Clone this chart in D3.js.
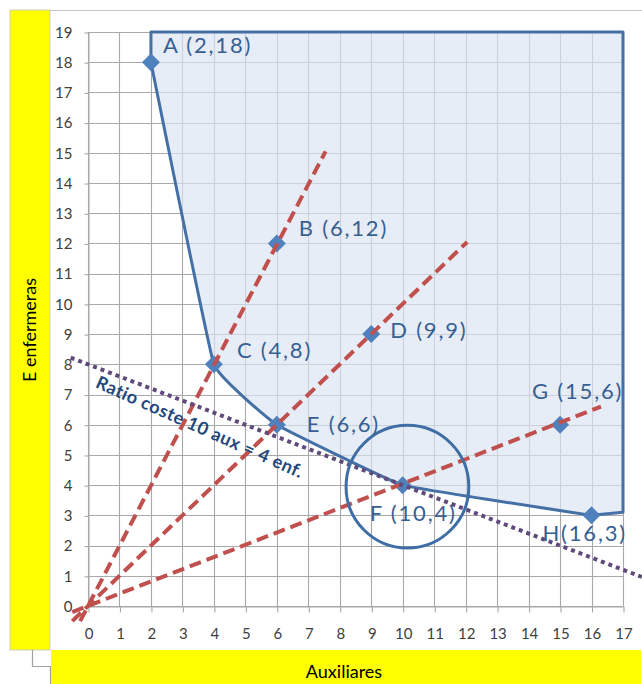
<!DOCTYPE html>
<html>
<head>
<meta charset="utf-8">
<script src="https://cdn.jsdelivr.net/npm/d3@7"></script>
<style>
  body { margin: 0; background: #fff; }
  text { font-family: Lato, "Open Sans", sans-serif; }
</style>
</head>
<body>
<script>
// Datos del gráfico
var pointNames = ["A", "B", "C", "D", "E", "F", "G", "H"];
var pointX = [2, 6, 4, 9, 6, 10, 15, 16];
var pointY = [18, 12, 8, 9, 6, 4, 6, 3];
var pointLabels = ["A (2,18)", "B (6,12)", "C (4,8)", "D (9,9)", "E (6,6)", "F (10,4)", "G (15,6)", "H(16,3)"];

// Frontera de la región factible (tramo curvo y cierre recto)
var frontierX = [2, 4, 6, 10, 16];
var frontierY = [18, 8, 6, 4, 3];
var closureX = [17, 17, 2];
var closureY = [3.1, 19, 19];

// Rectas de proporción desde el origen
var rays = [
  {x0: -0.25, y0: -0.5, x1: 7.55, y1: 15.05},
  {x0: -0.5, y0: -0.5, x1: 12.05, y1: 12.05},
  {x0: -0.5, y0: -0.2, x1: 16.3, y1: 6.6}
];

// Recta de coste: 10 aux = 4 enf
var costX = [-0.55, 17.6];
var costY = [8.22, 0.96];
var costLabel = "Ratio coste 10 aux = 4 enf.";

// Círculo alrededor del óptimo
var circleCenter = [10.15, 3.95];
var circleRadiusX = 1.95;

var xTickLabels = [0, 1, 2, 3, 4, 5, 6, 7, 8, 9, 10, 11, 12, 13, 14, 15, 16, 17];
var yTickLabels = [0, 1, 2, 3, 4, 5, 6, 7, 8, 9, 10, 11, 12, 13, 14, 15, 16, 17, 18, 19];
var xTitle = "Auxiliares";
var yTitle = "E enfermeras";

// Lienzo
var W = 642, H = 684;
var x = d3.scaleLinear().domain([0, 17]).range([88, 623]);
var y = d3.scaleLinear().domain([0, 19]).range([606, 32]);

var svg = d3.select("body").append("svg")
    .attr("width", W)
    .attr("height", H);

// Marco y cajas amarillas de los títulos
svg.append("line")
    .attr("x1", 50).attr("x2", W).attr("y1", 10.5).attr("y2", 10.5)
    .attr("stroke", "#c4c4c4").attr("stroke-width", 1.2);

svg.append("rect")
    .attr("x", 10).attr("y", 10).attr("width", 40).attr("height", 640)
    .attr("fill", "#ffff00").attr("stroke", "#c4c4c4").attr("stroke-width", 0.8);

svg.append("path")
    .attr("d", "M32.5,650 V666.5 H50.5 V684")
    .attr("fill", "none").attr("stroke", "#a0a0a0").attr("stroke-width", 1.2);

svg.append("rect")
    .attr("x", 51).attr("y", 650).attr("width", 590).attr("height", 40)
    .attr("fill", "#ffff00");

svg.append("text")
    .attr("transform", "translate(36,330) rotate(-90)")
    .attr("text-anchor", "middle")
    .attr("font-size", 18)
    .attr("fill", "#000")
    .text(yTitle);

svg.append("text")
    .attr("x", 344).attr("y", 678)
    .attr("text-anchor", "middle")
    .attr("font-size", 18)
    .attr("fill", "#000")
    .text(xTitle);

// Rejilla
var grid = svg.append("g").attr("stroke", "#a8a8a8").attr("stroke-width", 1.1);
grid.selectAll(".v").data(xTickLabels).enter().append("line")
    .attr("x1", function(d) { return Math.round(x(d)) + 0.5; })
    .attr("x2", function(d) { return Math.round(x(d)) + 0.5; })
    .attr("y1", y(19)).attr("y2", y(0));
grid.selectAll(".h").data(yTickLabels).enter().append("line")
    .attr("y1", function(d) { return Math.round(y(d)) + 0.5; })
    .attr("y2", function(d) { return Math.round(y(d)) + 0.5; })
    .attr("x1", x(0)).attr("x2", x(17));

// Ejes
var xAxis = d3.axisBottom(x).tickValues(xTickLabels).tickSize(6).tickSizeOuter(0).tickPadding(16);
var yAxis = d3.axisLeft(y).tickValues(yTickLabels).tickSize(4).tickSizeOuter(0).tickPadding(12);

var gx = svg.append("g").attr("transform", "translate(0.5," + (Math.round(y(0)) + 0.5) + ")").call(xAxis);
var gy = svg.append("g").attr("transform", "translate(" + (Math.round(x(0)) + 0.5) + ",0.5)").call(yAxis);
[gx, gy].forEach(function(g) {
  g.select(".domain").attr("stroke", "#a8a8a8");
  g.selectAll(".tick line").attr("stroke", "#a8a8a8").attr("stroke-width", 1.1);
  g.selectAll(".tick text").attr("font-size", 15).attr("fill", "#404040")
      .attr("font-family", "Lato, sans-serif");
});

// Región factible
var frontier = frontierX.map(function(d, i) { return [x(d), y(frontierY[i])]; });
var closure = closureX.map(function(d, i) { return [x(d), y(closureY[i])]; });
var curve = d3.line().curve(d3.curveCardinal.tension(0.78));
var curvePath = curve(frontier);
var fillPath = curvePath + closure.map(function(p) { return "L" + p[0] + "," + p[1]; }).join("") + "Z";

svg.append("path")
    .attr("d", fillPath)
    .attr("fill", "#dbe5f1")
    .attr("fill-opacity", 0.68)
    .attr("stroke", "none");

svg.append("path")
    .attr("d", fillPath)
    .attr("fill", "none")
    .attr("stroke", "#4470a6")
    .attr("stroke-width", 3)
    .attr("stroke-linejoin", "round");

// Puntos (rombos)
var s = 9;
svg.selectAll(".pt").data(pointNames).enter().append("path")
    .attr("d", function(d, i) {
      var cx = x(pointX[i]), cy = y(pointY[i]);
      return "M" + cx + "," + (cy - s) + "L" + (cx + s) + "," + cy + "L" + cx + "," + (cy + s) + "L" + (cx - s) + "," + cy + "Z";
    })
    .attr("fill", "#4f81bd");

// Rectas discontinuas rojas
svg.selectAll(".ray").data(rays).enter().append("line")
    .attr("x1", function(d) { return x(d.x0); })
    .attr("y1", function(d) { return y(d.y0); })
    .attr("x2", function(d) { return x(d.x1); })
    .attr("y2", function(d) { return y(d.y1); })
    .attr("stroke", "#c0504d")
    .attr("stroke-width", 4)
    .attr("stroke-dasharray", "12,6");

// Recta de coste punteada
svg.append("line")
    .attr("x1", x(costX[0])).attr("y1", y(costY[0]))
    .attr("x2", x(costX[1])).attr("y2", y(costY[1]))
    .attr("stroke", "#604a7b")
    .attr("stroke-width", 4)
    .attr("stroke-dasharray", "4,4");

var ang = Math.atan2(y(costY[1]) - y(costY[0]), x(costX[1]) - x(costX[0])) * 180 / Math.PI;
var tx = x(0.3), ty = y(costY[0] + (0.3 - costX[0]) * (costY[1] - costY[0]) / (costX[1] - costX[0]));
svg.append("text")
    .attr("transform", "translate(" + (tx - 3) + "," + (ty + 19) + ") rotate(" + (ang + 3) + ")")
    .attr("font-size", 18)
    .attr("font-weight", "bold")
    .attr("letter-spacing", 0.5)
    .attr("fill", "#1f497d")
    .text(costLabel);

// Círculo del óptimo
svg.append("circle")
    .attr("cx", x(circleCenter[0]))
    .attr("cy", y(circleCenter[1]))
    .attr("r", x(circleRadiusX) - x(0))
    .attr("fill", "none")
    .attr("stroke", "#3e6ea5")
    .attr("stroke-width", 3);

// Etiquetas de los puntos
var labelOffset = {A: [12, -17], B: [22, -15], C: [23, -14], D: [19, -4], E: [30, -1], F: [-33, 28], G: [-28, -34], H: [-49, 18]};
svg.selectAll(".lbl").data(pointNames).enter().append("text")
    .attr("x", function(d, i) { return x(pointX[i]) + labelOffset[d][0]; })
    .attr("y", function(d, i) { return y(pointY[i]) + labelOffset[d][1]; })
    .attr("dy", "0.36em")
    .attr("font-size", 22)
    .attr("letter-spacing", 1.8)
    .attr("fill", "#376092")
    .text(function(d, i) { return pointLabels[i]; });
</script>
</body>
</html>
